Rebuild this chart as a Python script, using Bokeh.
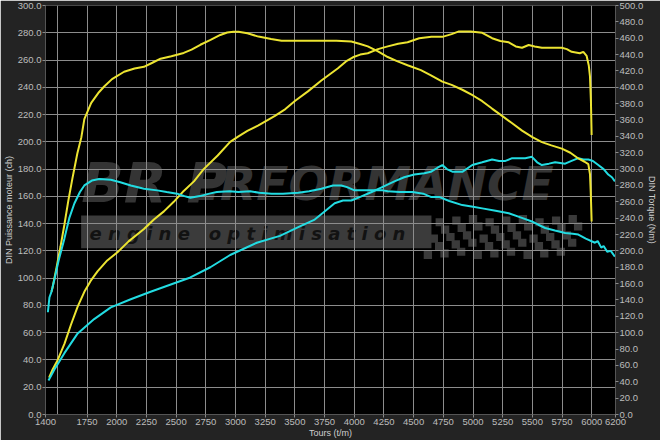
from bokeh.plotting import figure
from bokeh.models import Range1d, LinearAxis, FixedTicker, NumeralTickFormatter, Label, BoxAnnotation
from bokeh.embed import file_html
from bokeh.resources import INLINE

# ---------------- data ----------------
tuned_torque_rpm = [1450, 1459, 1492, 1526, 1559, 1593, 1626, 1668, 1702, 1727, 1785, 1850, 1894, 1960, 2062, 2150, 2229, 2300,
                    2369, 2460, 2564, 2630, 2704, 2790, 2872, 2930, 2983, 3025, 3100, 3193, 3300, 3388, 3550, 3723, 3850,
                    3975, 4050, 4114, 4200, 4282, 4360, 4449, 4561, 4642, 4742, 4820, 4910, 5000, 5078, 5160, 5245, 5330,
                    5413, 5500, 5580, 5660, 5748, 5820, 5887, 5940, 5971, 5985, 5992, 5999]
tuned_torque_nm = [150, 155, 179, 205, 232, 262, 288, 319, 339, 361, 381, 394, 401, 410, 419, 423, 425, 430,
                   435, 438, 442, 446, 452, 458, 464, 467, 468, 468, 466, 462, 459, 457, 457, 457, 457,
                   456, 453, 450, 444, 437, 432, 427, 421, 415, 407, 403, 397, 390, 383, 374, 365, 356,
                   347, 339, 333, 329, 325, 320, 313, 309, 306, 294, 270, 236]

tuned_power_rpm = [1430, 1460, 1503, 1560, 1615, 1670, 1727, 1780, 1838, 1920, 2006, 2100, 2229, 2313, 2397, 2480, 2564,
                   2650, 2732, 2850, 2955, 3025, 3100, 3193, 3332, 3420, 3500, 3610, 3723, 3863, 3930, 3989, 4050, 4114,
                   4200, 4282, 4370, 4449, 4547, 4650, 4742, 4820, 4882, 4980, 5078, 5161, 5230, 5301, 5360, 5413, 5469,
                   5520, 5580, 5650, 5748, 5790, 5831, 5900, 5929, 5957, 5975, 5985, 5993, 5999]
tuned_power_ch = [27, 33, 40, 52, 66, 79, 90, 98, 105, 113, 119, 127, 136, 143, 149, 156, 164,
                  171, 180, 190, 200, 204, 208, 212, 219, 224, 230, 237, 245, 254, 259, 262, 264, 265,
                  268, 270, 272, 273, 276, 277, 277, 279, 281, 281, 280, 276, 274, 273, 270, 269, 271,
                  270, 269, 269, 269, 268, 266, 265, 266, 263, 256, 248, 230, 205]

stock_torque_rpm = [1420, 1433, 1450, 1475, 1510, 1559, 1600, 1643, 1690, 1727, 1790, 1852, 1950, 2030, 2118, 2230, 2341,
                    2420, 2508, 2570, 2620, 2700, 2780, 2843, 2950, 3025, 3123, 3200, 3304, 3400, 3528, 3620, 3723, 3821,
                    3891, 3940, 4002, 4142, 4240, 4282, 4380, 4491, 4580, 4645, 4714, 4800, 4910, 5000, 5078, 5190, 5301,
                    5400, 5496, 5550, 5608, 5690, 5776, 5840, 5887, 5950, 6027, 6050, 6080, 6100, 6130, 6160, 6195]
stock_torque_nm = [125, 143, 150, 165, 188, 215, 240, 258, 272, 280, 286, 288, 287, 284, 280, 276, 274,
                   272, 270, 267, 265, 267, 270, 272, 273, 272, 273, 271, 270, 270, 271, 273, 276, 280,
                   280, 278, 274, 274, 274, 273, 272, 272, 270, 266, 266, 261, 256, 254, 252, 249, 246,
                   241, 236, 232, 228, 225, 222, 221, 220, 215, 210, 212, 204, 206, 199, 200, 193]

stock_power_rpm = [1425, 1475, 1559, 1671, 1810, 1950, 2118, 2285, 2508, 2620, 2788, 2955, 3179, 3374, 3542, 3667, 3709,
                   3835, 3905, 3975, 4060, 4142, 4240, 4338, 4420, 4505, 4590, 4645, 4701, 4742, 4780, 4830, 4910, 4994,
                   5078, 5161, 5220, 5273, 5330, 5385, 5440, 5496, 5540, 5580, 5640, 5692, 5776, 5830, 5887, 5930, 5971,
                   6010, 6055, 6100, 6139, 6170, 6195]
stock_power_ch = [25, 33, 45, 59.5, 70, 78.6, 84.5, 90, 97, 100.5, 108, 117, 126, 131, 138, 143, 146,
                  155, 157, 157, 160, 163, 167, 171, 174, 176, 177, 178, 181, 183, 180, 178, 178, 183,
                  185, 187, 186, 186, 188, 188, 188, 189, 185, 183, 184, 185, 184, 186, 188, 187, 187,
                  186, 183, 180, 176, 174, 171]

x_tick_labels = [1400, 1750, 2000, 2250, 2500, 2750, 3000, 3250, 3500, 3750, 4000, 4250, 4500, 4750, 5000, 5250,
                 5500, 5750, 6000, 6200]
x_grid_ticks = [1500, 1750, 2000, 2250, 2500, 2750, 3000, 3250, 3500, 3750, 4000, 4250, 4500, 4750, 5000, 5250,
                5500, 5750, 6000]
power_ticks = list(range(0, 301, 20))
torque_ticks = list(range(0, 501, 20))

YELLOW = "#ece431"
CYAN = "#22dce2"
BG = "#232323"
TXT = "#bdbdbd"

p = figure(width=660, height=440, output_backend="svg", toolbar_location=None,
           x_range=Range1d(1400, 6200), y_range=Range1d(0, 300),
           background_fill_color="black", border_fill_color=BG, outline_line_color=None,
           min_border_left=0, min_border_right=0, min_border_top=5, min_border_bottom=0)
p.extra_y_ranges = {"torque": Range1d(0, 500)}

def style_axis(ax, fmt):
    ax.major_label_text_color = TXT
    ax.major_label_text_font = "Liberation Sans"
    ax.major_label_text_font_size = "9.5px"
    ax.axis_label_text_color = "#cfcfcf"
    ax.axis_label_text_font = "Liberation Sans"
    ax.axis_label_text_font_size = "9px"
    ax.axis_label_text_font_style = "normal"
    ax.axis_line_color = "#555555"
    ax.major_tick_line_color = "#8a8a8a"
    ax.major_tick_out = 3
    ax.major_tick_in = 0
    ax.minor_tick_line_color = None
    ax.major_label_standoff = 1
    ax.axis_label_standoff = 1
    ax.formatter = NumeralTickFormatter(format=fmt)

xa = p.xaxis[0]
xa.ticker = FixedTicker(ticks=x_tick_labels)
style_axis(xa, "0")
xa.axis_label = "Tours (t/m)"
xa.axis_label_standoff = 0

ya = p.yaxis[0]
ya.ticker = FixedTicker(ticks=power_ticks)
style_axis(ya, "0.0")
ya.axis_label = "DIN Puissance moteur (ch)"

ra = LinearAxis(y_range_name="torque", ticker=FixedTicker(ticks=torque_ticks), axis_label="DIN Torque (Nm)")
style_axis(ra, "0.0")
p.add_layout(ra, "right")

p.xgrid.ticker = FixedTicker(ticks=x_grid_ticks)
p.ygrid.ticker = FixedTicker(ticks=power_ticks)
for g in (p.xgrid[0], p.ygrid[0]):
    g.grid_line_color = "#8c8c8c"
    g.grid_line_width = 1

# watermark (decorative)
p.add_layout(BoxAnnotation(left=1700, right=4650, bottom=122, top=146, fill_color="#3b3b3b",
                           fill_alpha=1, line_color=None, level="image"))
p.add_layout(Label(x=1700, y=146, text="BR P", text_font="DejaVu Sans", text_font_style="bold italic",
                   text_font_size="56px", text_color="#343434", level="image"))
p.add_layout(Label(x=2600, y=149, text="ERFORMANCE", text_font="DejaVu Sans", text_font_style="bold italic",
                   text_font_size="47px", text_color="#343434", level="image"))
p.add_layout(Label(x=1770, y=125, text="e n g i n e\u00a0\u00a0\u00a0o p t i m i s a t i o n", text_font="DejaVu Sans",
                   text_font_style="bold italic", text_font_size="18px", text_color="#121212", level="image"))

# checkered flag (decorative)
cx, cy = [], []
for r in range(5):
    for c in range(18):
        if (r + c) % 2 == 0:
            cx.append(4620 + c * 70 + r * 25)
            cy.append(117 + r * 6 + (c % 6) * 0.6)
p.rect(x=cx, y=cy, width=70, height=6, fill_color="#3a3a3a", line_color=None, level="image")

# curves
p.line(tuned_power_rpm, tuned_power_ch, line_color=YELLOW, line_width=2)
p.line(stock_power_rpm, stock_power_ch, line_color=CYAN, line_width=2)
p.line(tuned_torque_rpm, tuned_torque_nm, line_color=YELLOW, line_width=2, y_range_name="torque")
p.line(stock_torque_rpm, stock_torque_nm, line_color=CYAN, line_width=2, y_range_name="torque")

open("out.html", "w").write(file_html(p, INLINE))
